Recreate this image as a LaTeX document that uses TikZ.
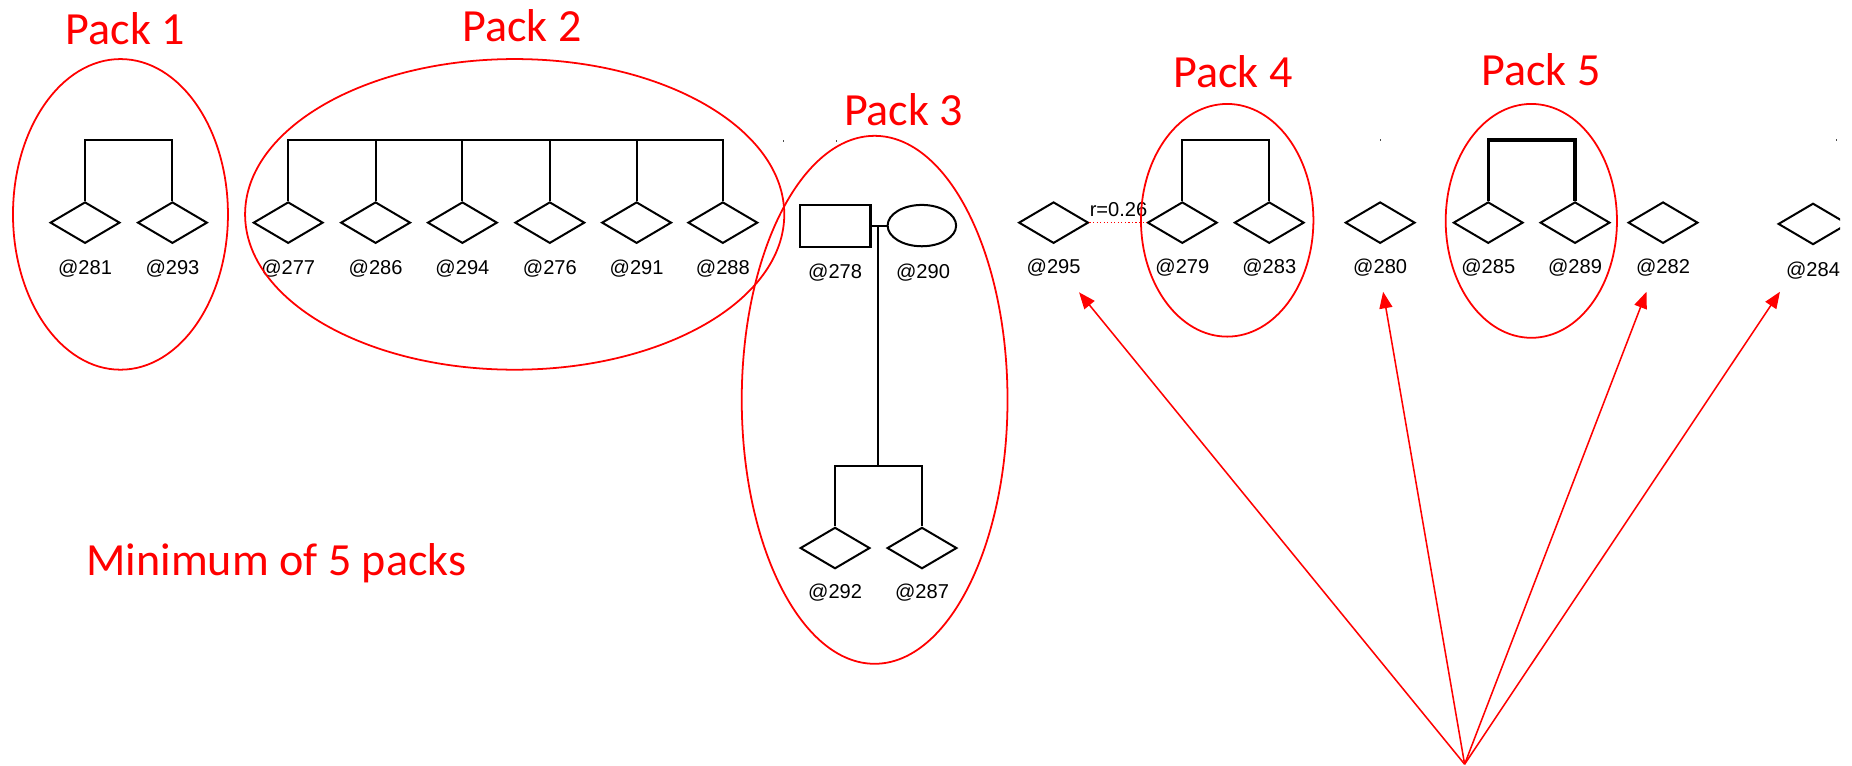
\documentclass[tikz,border=0pt]{standalone}
\usepackage{fontspec}
\setmainfont{Liberation Sans}
\newfontfamily\calib{Carlito}
\usetikzlibrary{shapes.geometric,arrows.meta}
\tikzset{
  sib/.style={diamond, draw, line width=1.7pt, minimum width=59pt, minimum height=35pt, inner sep=0pt},
  lbl/.style={anchor=base, font=\fontsize{17}{17}\selectfont, inner sep=0pt},
  ring/.style={ellipse, draw=red, line width=1.5pt, inner sep=0pt},
  packtxt/.style={anchor=base, text=red, font=\calib\fontsize{39}{39}\selectfont, inner sep=0pt},
  link/.style={line width=1.7pt},
  arr/.style={draw=red, line width=1.3pt, -{Triangle[length=14pt,width=11pt]}},
  tick/.style={fill=black!70, inner sep=0pt, minimum width=1pt, minimum height=2pt}
}
\begin{document}
\begin{tikzpicture}[x=1pt,y=-1pt]
\useasboundingbox (0,0) rectangle (1568,648);
\begin{scope}
\clip (0,0) rectangle (1558,648);
% bar level
\coordinate (bar) at (0,118.5);
% diamonds
\foreach \n/\x in {281/72,293/146,277/244,286/318,294/391.5,276/465.5,291/539,288/612,295/892,279/1001,283/1074.6,280/1168.5,285/1260,289/1333.5,282/1408}{
  \node[sib] (d\n) at (\x,188.5) {};
}
\node[sib] (d284) at (1535,189.6) {};
\node[sib] (d292) at (707,464) {};
\node[sib] (d287) at (780.6,464) {};
% labels
\foreach \n/\x in {281/72,293/146,277/244,286/318,294/391.5,276/465.5,291/539,288/612}{
  \node[lbl] (l\n) at (\x,232) {@\n};
}
\foreach \n/\x in {295/892,279/1001,283/1074.6,280/1168.5,285/1260,289/1333.5,282/1408}{
  \node[lbl] (l\n) at (\x,231.5) {@\n};
}
\node[lbl] (l284) at (1535,234.5) {@284};
\node[lbl] (l278) at (707,235.5) {@278};
\node[lbl] (l290) at (781.5,235.5) {@290};
\node[lbl] (l292) at (707,507) {@292};
\node[lbl] (l287) at (780.6,507) {@287};
% pack 1
\draw[link] (d281.north) -- (d281.north |- bar) -- (d293.north |- bar) -- (d293.north);
% pack 2
\draw[link] (d277.north) -- (d277.north |- bar) -- (d288.north |- bar) -- (d288.north);
\foreach \n in {286,294,276,291}{ \draw[link] (d\n.north) -- (d\n.north |- bar); }
% pack 3
\node[draw, line width=1.7pt, minimum width=60pt, minimum height=35.5pt, inner sep=0pt] (m278) at (707,191) {};
\node[ellipse, draw, line width=1.7pt, minimum width=58pt, minimum height=35pt, inner sep=0pt] (f290) at (780.5,191) {};
\coordinate (mate) at (743.5,191);
\coordinate (sibs) at (743.5,394.5);
\draw[link] (m278.east) -- (f290.west);
\draw[link] (mate) -- (sibs);
\draw[link] (d292.north) -- (d292.north |- sibs) -- (d287.north |- sibs) -- (d287.north);
% pack 4
\draw[link] (d279.north) -- (d279.north |- bar) -- (d283.north |- bar) -- (d283.north);
% pack 5
\draw[line width=2.8pt] (d285.north) -- (d285.north |- bar) -- (d289.north |- bar) -- (d289.north);
% dotted relation
\draw[red, dotted, line width=1pt] (d295.east) -- (d279.west);
\node[lbl] (r) at (947,183.5) {r=0.26};
% small ticks
\node[tick] (t1) at (663,119.4) {};
\node[tick] (t2) at (708,119.4) {};
\node[tick] (t3) at (1169,118.5) {};
\node[tick] (t4) at (1555,118.5) {};
% rings
\node[ring, minimum width=182pt, minimum height=263pt] (p1) at (102,181.5) {};
\node[ring, minimum width=456.5pt, minimum height=263pt] (p2) at (435.75,181.5) {};
\node[ring, minimum width=225pt, minimum height=447pt] (p3) at (740.5,338.5) {};
\node[ring, minimum width=146pt, minimum height=197pt] (p4) at (1039,186.5) {};
\node[ring, minimum width=145pt, minimum height=198pt] (p5) at (1296.5,187) {};
% pack titles
\node[packtxt] (t1p) at (106,38) {Pack 1};
\node[packtxt] (t2p) at (442,35.3) {Pack 2};
\node[packtxt] (t3p) at (765,106) {Pack 3};
\node[packtxt] (t4p) at (1044,74.5) {Pack 4};
\node[packtxt] (t5p) at (1304.6,72) {Pack 5};
\node[packtxt, anchor=base west] (minp) at (73,487) {Minimum of 5 packs};
% arrows
\coordinate (src) at (1240,647);
\coordinate (a295) at (913.6,247.5);
\coordinate (a280) at (1171,247);
\coordinate (a282) at (1394,247);
\coordinate (a284) at (1507,247);
\foreach \t in {a295,a280,a282,a284}{ \draw[arr] (src) -- (\t); }
\end{scope}
\end{tikzpicture}
\end{document}
